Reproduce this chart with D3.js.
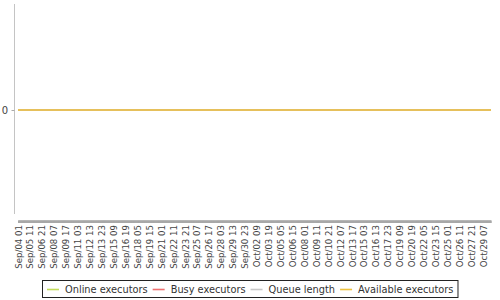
<!DOCTYPE html>
<html>
<head>
<meta charset="utf-8">
<script src="https://cdn.jsdelivr.net/npm/d3@7"></script>
<style>
  html, body { margin: 0; padding: 0; background: #fff; }
  svg { display: block; font-family: "DejaVu Sans", sans-serif; }
</style>
</head>
<body>
<svg id="chart" width="500" height="300"></svg>
<script>
// ---- data ----
const tickLabels = [
  "Sep/04 01","Sep/05 11","Sep/06 21","Sep/08 07","Sep/09 17","Sep/11 03","Sep/12 13","Sep/13 23",
  "Sep/15 09","Sep/16 19","Sep/18 05","Sep/19 15","Sep/21 01","Sep/22 11","Sep/23 21","Sep/25 07",
  "Sep/26 17","Sep/28 03","Sep/29 13","Sep/30 23","Oct/02 09","Oct/03 19","Oct/05 05","Oct/06 15",
  "Oct/08 01","Oct/09 11","Oct/10 21","Oct/12 07","Oct/13 17","Oct/15 03","Oct/16 13","Oct/17 23",
  "Oct/19 09","Oct/20 19","Oct/22 05","Oct/23 15","Oct/25 01","Oct/26 11","Oct/27 21","Oct/29 07"
];
const rangeStart = "Sep/04 01";
const rangeEnd = "Oct/30 05";
const sampleTimes = tickLabels.concat([rangeEnd]);
const onlineExecutors   = [0,0,0,0,0,0,0,0,0,0,0,0,0,0,0,0,0,0,0,0,0,0,0,0,0,0,0,0,0,0,0,0,0,0,0,0,0,0,0,0,0];
const busyExecutors     = [0,0,0,0,0,0,0,0,0,0,0,0,0,0,0,0,0,0,0,0,0,0,0,0,0,0,0,0,0,0,0,0,0,0,0,0,0,0,0,0,0];
const queueLength       = [0,0,0,0,0,0,0,0,0,0,0,0,0,0,0,0,0,0,0,0,0,0,0,0,0,0,0,0,0,0,0,0,0,0,0,0,0,0,0,0,0];
const availableExecutors= [0,0,0,0,0,0,0,0,0,0,0,0,0,0,0,0,0,0,0,0,0,0,0,0,0,0,0,0,0,0,0,0,0,0,0,0,0,0,0,0,0];
const seriesNames = ["Online executors","Busy executors","Queue length","Available executors"];
const seriesValues = [onlineExecutors, busyExecutors, queueLength, availableExecutors];
const yTicks = [0];
const yDomain = [-1, 1];

// ---- layout ----
const colors = ["#c3dc5a", "#ef7070", "#c8c8c8", "#eec23e"];
const svg = d3.select("#chart");
const parse = s => d3.timeParse("%Y %b/%d %H")("2016 " + s);
const fmt = d3.timeFormat("%b/%d %H");

const x = d3.scaleTime().domain([parse(rangeStart), parse(rangeEnd)]).range([18, 491]);
const y = d3.scaleLinear().domain(yDomain).range([216, 4]);

// y axis
const yAxis = svg.append("g").attr("transform", "translate(14,0)")
  .call(d3.axisLeft(y).tickValues(yTicks).tickSize(3).tickPadding(3).tickFormat(d3.format("d")));
yAxis.select(".domain").attr("stroke", "#c4c4c4").attr("d", "M0.5,4V214");
yAxis.selectAll(".tick line").attr("stroke", "#aaa").attr("transform", "translate(0.5,0)");
yAxis.selectAll(".tick text").attr("fill", "#444").style("font-size", "10px").style("font-family", "DejaVu Sans");

// x axis minor (hourly) ticks band
const hours = d3.timeHour.range(parse(rangeStart), parse(rangeEnd));
const band = svg.append("g").attr("transform", "translate(0,220.5)")
  .call(d3.axisBottom(x).tickValues(hours).tickSize(2.5).tickFormat(""));
band.select(".domain").remove();
band.selectAll(".tick line").attr("stroke", "#a8a8a8").attr("stroke-width", 1);

// x axis labels
const xAxis = svg.append("g").attr("transform", "translate(0,223)")
  .call(d3.axisBottom(x).tickValues(tickLabels.map(parse)).tickSize(0).tickFormat(fmt));
xAxis.select(".domain").remove();
xAxis.selectAll(".tick text")
  .attr("fill", "#444")
  .style("font-size", "8.6px")
  .style("font-family", "DejaVu Sans")
  .attr("text-anchor", "end")
  .attr("dy", "0.35em")
  .attr("y", 0)
  .attr("transform", "translate(0,2) rotate(-90)");

// lines
const line = d3.line().x((d, i) => x(parse(sampleTimes[i]))).y(d => y(d));
seriesValues.forEach((vals, k) => {
  svg.append("path").datum(vals)
    .attr("fill", "none")
    .attr("stroke", colors[k])
    .attr("stroke-width", 1.3)
    .attr("d", line);
});

// legend
const legend = svg.append("g");
let cx = 47;
seriesNames.forEach((name, k) => {
  const g = legend.append("g");
  g.append("line").attr("x1", cx).attr("x2", cx + 12).attr("y1", 289.5).attr("y2", 289.5)
    .attr("stroke", colors[k]).attr("stroke-width", 1.6);
  const t = g.append("text").attr("x", cx + 18).attr("y", 293).text(name)
    .attr("fill", "#333").style("font-size", "9.8px").style("font-family", "DejaVu Sans");
  const w = t.node().getComputedTextLength();
  cx = cx + 18 + w + 5;
});
legend.insert("rect", ":first-child").attr("x", 42.5).attr("y", 280.5)
  .attr("width", cx - 42 - 1).attr("height", 17).attr("fill", "#fff").attr("stroke", "#222");
</script>
</body>
</html>
